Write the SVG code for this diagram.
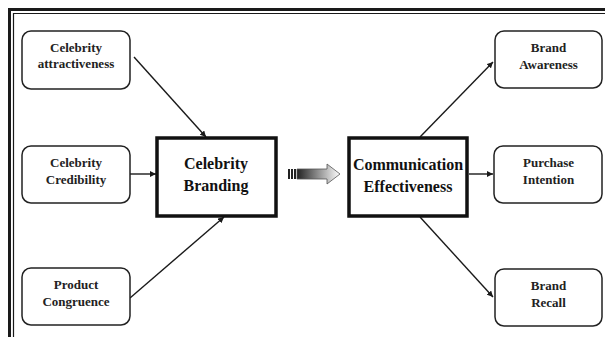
<svg xmlns="http://www.w3.org/2000/svg" width="605" height="337" viewBox="0 0 605 337">
<defs>
<marker id="ah" viewBox="0 0 10 10" refX="10" refY="5" markerWidth="6" markerHeight="6" markerUnits="userSpaceOnUse" orient="auto">
<path d="M0,0 L10,5 L0,10 Z" fill="#1a1a1a"/>
</marker>
<linearGradient id="bg" x1="0" y1="0" x2="1" y2="0">
<stop offset="0" stop-color="#222"/>
<stop offset="1" stop-color="#fff"/>
</linearGradient>
</defs>
<style>
.sm{fill:#fff;stroke:#222;stroke-width:1.5}
.big{fill:#fff;stroke:#111;stroke-width:3.5}
.t{font-family:"Liberation Serif","Times New Roman",serif;font-weight:bold;font-size:13px;fill:#222;text-anchor:middle}
.T{font-family:"Liberation Serif","Times New Roman",serif;font-weight:bold;font-size:16px;fill:#111;text-anchor:middle}
.c{stroke:#1a1a1a;stroke-width:1.4;fill:none;marker-end:url(#ah)}
</style>
<rect width="605" height="337" fill="#fff"/>
<g id="frame" fill="none" stroke="#1a1a1a">
<path d="M9.5,337 V9.5 H605" stroke-width="3"/>
<path d="M13.5,337 V13.5 H605" stroke-width="1.2"/>
</g>
<g id="connectors">
<line class="c" x1="134" y1="57" x2="206" y2="137"/>
<line class="c" x1="130" y1="174" x2="156" y2="174"/>
<line class="c" x1="130" y1="298" x2="224" y2="217"/>
<line class="c" x1="420" y1="137" x2="493" y2="62"/>
<line class="c" x1="469" y1="174" x2="493" y2="174"/>
<line class="c" x1="420" y1="217" x2="493" y2="297"/>
<g id="blockarrow">
<rect x="288" y="169" width="2" height="10" fill="#222"/>
<rect x="291" y="169" width="2" height="10" fill="#222"/>
<rect x="294" y="169" width="2" height="10" fill="#222"/>
<path d="M297,169 H327 V164 L340,174 L327,184 V179 H297 Z" fill="url(#bg)" stroke="#555" stroke-width="0.8"/>
</g>
</g>
<g id="n1"><rect class="sm" x="22" y="31" width="108" height="58" rx="9"/><text class="t" x="76" y="52">Celebrity</text><text class="t" x="76" y="68">attractiveness</text></g>
<g id="n2"><rect class="sm" x="22" y="146" width="108" height="57" rx="9"/><text class="t" x="76" y="167">Celebrity</text><text class="t" x="76" y="184">Credibility</text></g>
<g id="n3"><rect class="sm" x="22" y="268" width="108" height="57" rx="9"/><text class="t" x="76" y="289">Product</text><text class="t" x="76" y="306">Congruence</text></g>
<g id="n4"><rect class="big" x="157" y="138" width="119" height="78"/><text class="T" x="216" y="169">Celebrity</text><text class="T" x="216" y="191">Branding</text></g>
<g id="n5"><rect class="big" x="349" y="138" width="118" height="78"/><text class="T" x="408" y="170">Communication</text><text class="T" x="408" y="192">Effectiveness</text></g>
<g id="n6"><rect class="sm" x="495" y="31" width="107" height="57" rx="9"/><text class="t" x="548.5" y="52">Brand</text><text class="t" x="548.5" y="69">Awareness</text></g>
<g id="n7"><rect class="sm" x="494" y="146" width="108" height="57" rx="9"/><text class="t" x="548.5" y="167">Purchase</text><text class="t" x="548.5" y="184">Intention</text></g>
<g id="n8"><rect class="sm" x="495" y="269" width="107" height="57" rx="9"/><text class="t" x="548.5" y="290">Brand</text><text class="t" x="548.5" y="307">Recall</text></g>
</svg>
